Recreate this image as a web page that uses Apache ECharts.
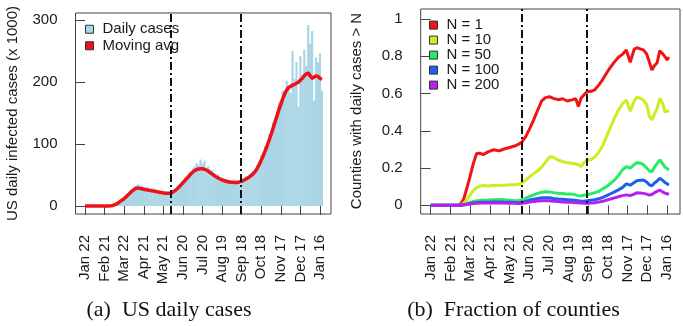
<!DOCTYPE html>
<html>
<head>
<meta charset="utf-8">
<script src="https://cdn.jsdelivr.net/npm/echarts@6/dist/echarts.min.js"></script>
<style>
  html, body { margin: 0; padding: 0; background: #fff; }
  #chart { width: 683px; height: 326px; }
</style>
</head>
<body>
<div id="chart"></div>
<script>
// x tick labels, one every 30 days from Jan 22, 2020
var tickLabels = ["Jan 22", "Feb 21", "Mar 22", "Apr 21", "May 21", "Jun 20",
  "Jul 20", "Aug 19", "Sep 18", "Oct 18", "Nov 17", "Dec 17", "Jan 16"];

// (a) US daily cases, thousands, sampled every 3 days
var dailyCases = [
  0, 0, 0, 0, 0, 0, 0, 0, 0, 0,
  0, 0, 0.2, 0.4, 0.8, 2.2, 3.5, 6, 8.5, 11,
  13.5, 17, 20, 24, 27, 30, 33, 35, 31, 33,
  27, 30, 31, 24, 28, 29, 21, 26, 24, 19,
  23, 24, 18, 22, 21, 25, 27, 25, 34, 38,
  41, 46, 48, 52, 56, 61, 64, 69, 66, 75,
  68, 73, 62, 64, 55, 58, 50, 49, 51, 43,
  46, 41, 44, 37, 42, 35, 43, 36, 40, 37,
  44, 42, 48, 45, 51, 54, 57, 60, 67, 72,
  82, 86, 97, 102, 117, 122, 135, 142, 152, 167,
  172, 186, 180, 202, 192, 182, 250, 205, 232, 160,
  242, 212, 252, 226, 292, 262, 282, 170, 240, 232,
  246, 186
];
var movingAvg = [
  0, 0, 0, 0, 0, 0, 0, 0, 0, 0,
  0, 0.1, 0.1, 0.2, 0.6, 1.8, 3, 5.2, 7.5, 9.8,
  12, 15, 18, 21, 24, 26.5, 28.5, 29, 28.7, 27.8,
  27, 26.3, 25.8, 25.2, 24.6, 24, 23.5, 23, 22.3, 21.7,
  21.2, 20.7, 20.4, 20.5, 21.3, 22.8, 25, 27.5, 30.5, 34,
  37.5, 41, 44.5, 48, 51.5, 54.5, 57, 58.8, 59.8, 60.2,
  60, 59.2, 58, 56, 53.8, 51.5, 49.2, 47, 45.2, 43.6,
  42.2, 41, 40, 39.2, 38.6, 38.2, 38, 38, 38.3, 39,
  40, 41.5, 43, 45, 47, 49.5, 52.5, 56, 61, 67,
  74, 81, 89, 97, 106, 115, 125, 135, 145, 155,
  164, 173, 181, 187, 191, 193, 195, 196, 198, 200,
  203, 206, 210, 213, 214, 210, 206, 208, 209.5, 209,
  206, 204
];
var phaseDaysA = [132, 238];

// (b) fraction of counties with daily cases > N
var fracDays = [0, 40, 45, 50, 55, 60, 65, 70, 75, 80,
  88, 96, 104, 112, 120, 128, 134, 139, 145, 151,
  157, 163, 169, 175, 181, 187, 194, 201, 208, 215,
  221, 225, 229, 234, 238, 244, 250, 256, 262, 268,
  274, 280, 286, 292, 298, 300, 304, 310, 314, 319,
  324, 329, 333, 337, 341, 345, 349, 353, 357, 360, 363];
var fracN1 = [0, 0, 0.005, 0.03, 0.09, 0.155, 0.225, 0.278, 0.28, 0.272,
  0.288, 0.298, 0.292, 0.302, 0.31, 0.318, 0.328, 0.34, 0.37, 0.413,
  0.46, 0.51, 0.56, 0.578, 0.583, 0.574, 0.567, 0.572, 0.56, 0.566,
  0.572, 0.53, 0.575, 0.595, 0.61, 0.612, 0.62, 0.645, 0.675, 0.71,
  0.742, 0.77, 0.795, 0.81, 0.834, 0.83, 0.768, 0.838, 0.846, 0.84,
  0.834, 0.812, 0.77, 0.726, 0.75, 0.765, 0.83, 0.815, 0.798, 0.78, 0.795];
var fracN10 = [0, 0, 0, 0.01, 0.03, 0.055, 0.08, 0.095, 0.103, 0.106,
  0.104, 0.108, 0.106, 0.108, 0.11, 0.11, 0.113, 0.12, 0.135, 0.155,
  0.17, 0.185, 0.205, 0.232, 0.26, 0.258, 0.243, 0.235, 0.228, 0.226,
  0.222, 0.218, 0.207, 0.232, 0.243, 0.245, 0.26, 0.285, 0.32, 0.37,
  0.42, 0.47, 0.51, 0.545, 0.565, 0.56, 0.505, 0.56, 0.58, 0.575,
  0.565, 0.54, 0.48, 0.458, 0.49, 0.52, 0.574, 0.55, 0.5, 0.49, 0.51];
var fracN50 = [0, 0, 0, 0.004, 0.01, 0.016, 0.021, 0.024, 0.026, 0.027,
  0.028, 0.03, 0.031, 0.03, 0.027, 0.025, 0.024, 0.028, 0.038, 0.048,
  0.056, 0.064, 0.07, 0.073, 0.072, 0.068, 0.065, 0.063, 0.06, 0.06,
  0.056, 0.052, 0.05, 0.055, 0.057, 0.062, 0.068, 0.075, 0.088, 0.1,
  0.118, 0.135, 0.16, 0.19, 0.207, 0.208, 0.2, 0.218, 0.229, 0.227,
  0.218, 0.2, 0.185, 0.18, 0.205, 0.225, 0.243, 0.225, 0.205, 0.195, 0.19];
var fracN100 = [0, 0, 0, 0.003, 0.006, 0.01, 0.013, 0.015, 0.016, 0.017,
  0.017, 0.018, 0.018, 0.017, 0.016, 0.015, 0.014, 0.016, 0.022, 0.028,
  0.033, 0.037, 0.04, 0.041, 0.04, 0.037, 0.034, 0.032, 0.03, 0.028,
  0.026, 0.024, 0.022, 0.023, 0.024, 0.027, 0.03, 0.035, 0.043, 0.052,
  0.062, 0.072, 0.083, 0.095, 0.115, 0.118, 0.108, 0.122, 0.132, 0.135,
  0.136, 0.125, 0.11, 0.105, 0.12, 0.13, 0.145, 0.135, 0.122, 0.115, 0.109];
var fracN200 = [0, 0, 0, 0.002, 0.004, 0.007, 0.009, 0.011, 0.012, 0.013,
  0.013, 0.013, 0.013, 0.012, 0.011, 0.011, 0.01, 0.011, 0.014, 0.018,
  0.021, 0.023, 0.025, 0.025, 0.024, 0.022, 0.02, 0.018, 0.017, 0.016,
  0.014, 0.013, 0.012, 0.011, 0.011, 0.012, 0.014, 0.017, 0.022, 0.028,
  0.034, 0.04, 0.046, 0.052, 0.056, 0.055, 0.052, 0.06, 0.067, 0.066,
  0.064, 0.06, 0.055, 0.058, 0.068, 0.075, 0.082, 0.072, 0.065, 0.06, 0.059];
var phaseDaysB = [139, 238];

var fracNames = ["N = 1", "N = 10", "N = 50", "N = 100", "N = 200"];
var fracColors = ["#f01414", "#c8f01e", "#24ec64", "#1c60ee", "#b81ef0"];
var casesTicks = [0, 100, 200, 300];
var fracTicks = [0, 0.2, 0.4, 0.6, 0.8, 1];

var sans = '"Liberation Sans", Arial, sans-serif';
var ink = "#1a1a1a";
var boxColor = "#444";
var tickDays = tickLabels.map(function (_, i) { return i * 30; });
var sampleDays = dailyCases.map(function (_, i) { return i * 3; });

function pairs(xs, ys) {
  return xs.map(function (x, i) { return [x, ys[i]]; });
}

function xAxisFor(grid, min, max) {
  return {
    type: "value", gridIndex: grid, min: min, max: max,
    splitLine: { show: false },
    axisLine: { show: false },
    axisTick: { show: true, length: 9, customValues: tickDays, lineStyle: { color: boxColor } },
    axisLabel: {
      customValues: tickDays, rotate: 90, margin: 21,
      fontFamily: sans, fontSize: 15, color: ink,
      formatter: function (v) { return tickLabels[Math.round(v / 30)]; }
    }
  };
}

function yAxisFor(grid, min, max, ticks) {
  return {
    type: "value", gridIndex: grid, min: min, max: max,
    splitLine: { show: false },
    axisLine: { show: false },
    axisTick: { show: true, length: 10, customValues: ticks, lineStyle: { color: boxColor } },
    axisLabel: {
      customValues: ticks, margin: 18,
      fontFamily: sans, fontSize: 15, color: ink,
      formatter: function (v) { return String(v); }
    }
  };
}

function phaseLines(grid, days) {
  return {
    type: "line", xAxisIndex: grid, yAxisIndex: grid, data: [], z: 10,
    silent: true,
    markLine: {
      symbol: ["none", "none"], silent: true, animation: false,
      label: { show: false },
      lineStyle: { color: "#111", width: 2, type: [8, 3, 2, 3] },
      data: days.map(function (d) { return { xAxis: d }; })
    }
  };
}

var legendText = { fontFamily: sans, fontSize: 15, color: ink, padding: [0, 0, 0, 4] };

var series = [
  {
    name: "Daily cases", type: "bar", xAxisIndex: 0, yAxisIndex: 0,
    data: pairs(sampleDays, dailyCases), barWidth: 2.2,
    itemStyle: { color: "#a9d5e4" }
  },
  {
    name: "Moving avg", type: "line", xAxisIndex: 0, yAxisIndex: 0,
    data: pairs(sampleDays, movingAvg), showSymbol: false, symbol: "none", smooth: 0.3,
    lineStyle: { color: "#ec1218", width: 3.5 }, itemStyle: { color: "#ec1218" }
  },
  phaseLines(0, phaseDaysA)
];
[fracN1, fracN10, fracN50, fracN100, fracN200].forEach(function (vals, i) {
  series.push({
    name: fracNames[i], type: "line", xAxisIndex: 1, yAxisIndex: 1,
    data: pairs(fracDays, vals), showSymbol: false, symbol: "none",
    lineStyle: { color: fracColors[i], width: 3 }, itemStyle: { color: fracColors[i] }
  });
});
series.push(phaseLines(1, phaseDaysB));

var option = {
  animation: false,
  backgroundColor: "#fff",
  grid: [
    { left: 75.5, right: 352, top: 13, bottom: 112, show: true, borderColor: boxColor, borderWidth: 1, backgroundColor: "transparent" },
    { left: 420.7, right: 3, top: 9, bottom: 112, show: true, borderColor: boxColor, borderWidth: 1, backgroundColor: "transparent" }
  ],
  xAxis: [xAxisFor(0, -14.6, 376.9), xAxisFor(1, -15.2, 379.8)],
  yAxis: [yAxisFor(0, -12.9, 311.3, casesTicks), yAxisFor(1, -0.0467, 1.0537, fracTicks)],
  legend: [
    {
      data: ["Daily cases", "Moving avg"], orient: "vertical", left: 85, top: 21,
      icon: "rect", itemWidth: 8, itemHeight: 8, itemGap: 0, padding: 0,
      itemStyle: { borderColor: "#333", borderWidth: 1 },
      textStyle: Object.assign({ lineHeight: 16.5 }, legendText)
    },
    {
      data: fracNames, orient: "vertical", left: 429, top: 17.6,
      icon: "rect", itemWidth: 8, itemHeight: 8, itemGap: 0, padding: 0,
      itemStyle: { borderColor: "#333", borderWidth: 1 },
      textStyle: Object.assign({ lineHeight: 14.75 }, legendText)
    }
  ],
  graphic: [
    {
      type: "text", x: 12.5, y: 113.5, rotation: Math.PI / 2,
      style: { text: "US daily infected cases (x 1000)", font: "15px " + sans, fill: ink, textAlign: "center", textVerticalAlign: "middle" }
    },
    {
      type: "text", x: 356.5, y: 111, rotation: Math.PI / 2,
      style: { text: "Counties with daily cases > N", font: "15px " + sans, fill: ink, textAlign: "center", textVerticalAlign: "middle" }
    },
    {
      type: "text", x: 169, y: 310,
      style: { text: "(a)  US daily cases", font: '22px "Liberation Serif", serif', fill: "#111", textAlign: "center", textVerticalAlign: "middle" }
    },
    {
      type: "text", x: 513.5, y: 310,
      style: { text: "(b)  Fraction of counties", font: '22px "Liberation Serif", serif', fill: "#111", textAlign: "center", textVerticalAlign: "middle" }
    }
  ],
  series: series
};

var chart = echarts.init(document.getElementById("chart"));
chart.setOption(option);
</script>
</body>
</html>
